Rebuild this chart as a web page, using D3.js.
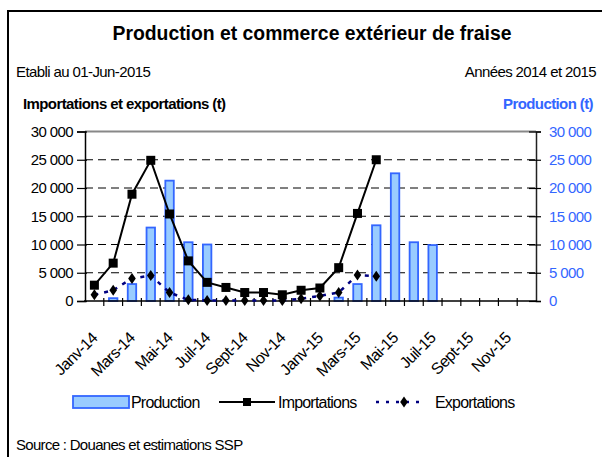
<!DOCTYPE html>
<html>
<head>
<meta charset="utf-8">
<script src="https://cdn.jsdelivr.net/npm/d3@7"></script>
<style>
    body { margin: 0; background: #fff; }
    text { font-family: "Liberation Sans", Arial, sans-serif; }
</style>
</head>
<body>
<svg id="chart" width="602" height="457"></svg>
<script>
// months, Janv-14 .. Déc-15
const months = ["Janv-14", "Févr-14", "Mars-14", "Avr-14", "Mai-14", "Juin-14",
    "Juil-14", "Août-14", "Sept-14", "Oct-14", "Nov-14", "Déc-14",
    "Janv-15", "Févr-15", "Mars-15", "Avr-15", "Mai-15", "Juin-15",
    "Juil-15", "Août-15", "Sept-15", "Oct-15", "Nov-15", "Déc-15"];
// only every second month gets a label
const tickLabels = ["Janv-14", "Mars-14", "Mai-14", "Juil-14", "Sept-14", "Nov-14",
    "Janv-15", "Mars-15", "Mai-15", "Juil-15", "Sept-15", "Nov-15"];

const production = [null, 500, 3000, 13000, 21300, 10400, 10000, null, null, null, null, null,
    null, 600, 3000, 13400, 22600, 10400, 9900, null, null, null, null, null];
const importations = [2800, 6700, 18900, 24900, 15400, 7100, 3300, 2400, 1500, 1500, 1100, 1900,
    2300, 5900, 15500, 25000, null, null, null, null, null, null, null, null];
const exportations = [1100, 1900, 4000, 4500, 1500, 200, 100, 100, 100, 100, 100, 400,
    900, 1500, 4600, 4400, null, null, null, null, null, null, null, null];

const yTicks = [0, 5000, 10000, 15000, 20000, 25000, 30000];

const blue = "#3366ff";
const svg = d3.select("#chart");

// outer frame
svg.append("rect")
    .attr("x", 8).attr("y", 11)
    .attr("width", 620).attr("height", 480)
    .attr("fill", "none").attr("stroke", "#000").attr("stroke-width", 2);

const plotL = 85, plotR = 536, plotT = 131.5, plotB = 301;

const x = d3.scaleBand().domain(months).range([plotL, plotR]).padding(0);
const y = d3.scaleLinear().domain([0, 30000]).range([plotB, plotT]);
const y2 = d3.scaleLinear().domain([0, 30000]).range([plotB, plotT]);

const fmt = d => d === 0 ? "0" : d3.format(",")(d).replace(",", " ");

// titles
svg.append("text")
    .attr("x", 312).attr("y", 40)
    .attr("text-anchor", "middle")
    .attr("font-size", 20).attr("font-weight", "bold")
    .attr("textLength", 399).attr("lengthAdjust", "spacingAndGlyphs")
    .text("Production et commerce extérieur de fraise");

svg.append("text")
    .attr("x", 16).attr("y", 77)
    .attr("font-size", 15).attr("letter-spacing", -0.6)
    .text("Etabli au 01-Jun-2015");

svg.append("text")
    .attr("x", 596).attr("y", 77)
    .attr("text-anchor", "end")
    .attr("font-size", 15).attr("letter-spacing", -0.6)
    .text("Années 2014 et 2015");

svg.append("text")
    .attr("x", 23).attr("y", 109)
    .attr("font-size", 15).attr("font-weight", "bold").attr("letter-spacing", -0.6)
    .text("Importations et exportations (t)");

svg.append("text")
    .attr("x", 593).attr("y", 109)
    .attr("text-anchor", "end")
    .attr("fill", blue)
    .attr("font-size", 15).attr("font-weight", "bold").attr("letter-spacing", -0.6)
    .text("Production (t)");

// grid lines
svg.append("g")
    .selectAll("line")
    .data(yTicks.filter(d => d > 0 && d < 30000))
    .enter()
    .append("line")
    .attr("x1", plotL).attr("x2", plotR)
    .attr("y1", d => y(d)).attr("y2", d => y(d))
    .attr("stroke", "#000").attr("stroke-width", 1)
    .attr("stroke-dasharray", "8,5");

svg.append("line")
    .attr("x1", plotL).attr("x2", plotR)
    .attr("y1", y(30000)).attr("y2", y(30000))
    .attr("stroke", "#888").attr("stroke-width", 2);

// production bars (right axis)
const bw = x.bandwidth() * 0.45;
svg.append("g")
    .selectAll("rect")
    .data(months.map((m, i) => ({m: m, v: production[i]})).filter(d => d.v != null))
    .enter()
    .append("rect")
    .attr("x", d => x(d.m) + (x.bandwidth() - bw) / 2)
    .attr("y", d => y2(d.v))
    .attr("width", bw)
    .attr("height", d => plotB - y2(d.v))
    .attr("fill", "#99ccff")
    .attr("stroke", blue).attr("stroke-width", 1.8);

// left axis
const gl = svg.append("g")
    .attr("transform", `translate(${plotL},0)`)
    .call(d3.axisLeft(y).tickValues(yTicks).tickFormat(fmt).tickSize(8).tickPadding(4));
gl.select(".domain").attr("stroke", "#000").attr("stroke-width", 1.5);
gl.selectAll(".tick line").attr("x1", 2).attr("stroke-width", 1.2);
gl.selectAll(".tick text")
    .attr("font-size", 15).attr("letter-spacing", -0.6)
    .attr("font-family", "Liberation Sans, Arial, sans-serif")
    .attr("fill", "#000");

// right axis
const gr = svg.append("g")
    .attr("transform", `translate(${plotR},0)`)
    .call(d3.axisRight(y2).tickValues(yTicks).tickFormat(fmt).tickSize(5).tickPadding(8));
gr.select(".domain").attr("stroke", "#222").attr("stroke-width", 1.5);
gr.selectAll(".tick line").attr("x1", -7).attr("stroke-width", 1.2);
gr.selectAll(".tick text")
    .attr("font-size", 15).attr("letter-spacing", -0.6)
    .attr("font-family", "Liberation Sans, Arial, sans-serif")
    .attr("fill", blue);

// x axis with ticks on the category boundaries
svg.append("line")
    .attr("x1", plotL - 1).attr("x2", plotR + 1)
    .attr("y1", plotB).attr("y2", plotB)
    .attr("stroke", "#000").attr("stroke-width", 1.5);
svg.append("g")
    .selectAll("line")
    .data(months.slice(1))
    .enter()
    .append("line")
    .attr("x1", d => x(d)).attr("x2", d => x(d))
    .attr("y1", plotB - 3).attr("y2", plotB + 5)
    .attr("stroke", "#000").attr("stroke-width", 1.2);

svg.append("g")
    .selectAll("text")
    .data(tickLabels)
    .enter()
    .append("text")
    .attr("transform", d => `translate(${x(d) + x.bandwidth() / 2 + 4},${plotB + 38}) rotate(-45)`)
    .attr("text-anchor", "end")
    .attr("font-size", 16).attr("letter-spacing", -0.6)
    .text(d => d);

// lines
const line = yScale => d3.line()
    .defined(d => d.v != null)
    .x(d => x(d.m) + x.bandwidth() / 2)
    .y(d => yScale(d.v));

const impData = months.map((m, i) => ({m: m, v: importations[i]}));
const expData = months.map((m, i) => ({m: m, v: exportations[i]}));

svg.append("path")
    .datum(expData)
    .attr("d", line(y))
    .attr("fill", "none")
    .attr("stroke", "#000080").attr("stroke-width", 2.5)
    .attr("stroke-dasharray", "4,6");

const diamond = "M0,-5.5L3.8,0L0,5.5L-3.8,0Z";
svg.append("g")
    .selectAll("path")
    .data(expData.filter(d => d.v != null))
    .enter()
    .append("path")
    .attr("d", diamond)
    .attr("transform", d => `translate(${x(d.m) + x.bandwidth() / 2},${y(d.v)})`)
    .attr("fill", "#000");

svg.append("path")
    .datum(impData)
    .attr("d", line(y))
    .attr("fill", "none")
    .attr("stroke", "#000").attr("stroke-width", 2);

svg.append("g")
    .selectAll("rect")
    .data(impData.filter(d => d.v != null))
    .enter()
    .append("rect")
    .attr("x", d => x(d.m) + x.bandwidth() / 2 - 4.5)
    .attr("y", d => y(d.v) - 4.5)
    .attr("width", 9).attr("height", 9)
    .attr("fill", "#000");

// legend
const lg = svg.append("g");
lg.append("rect")
    .attr("x", 73).attr("y", 396).attr("width", 56).attr("height", 12)
    .attr("fill", "#99ccff").attr("stroke", blue).attr("stroke-width", 1.8);
lg.append("text").attr("x", 131).attr("y", 408)
    .attr("font-size", 16).attr("letter-spacing", -0.8).text("Production");

lg.append("line").attr("x1", 219).attr("x2", 275).attr("y1", 402).attr("y2", 402)
    .attr("stroke", "#000").attr("stroke-width", 2);
lg.append("rect").attr("x", 243).attr("y", 398).attr("width", 8).attr("height", 8).attr("fill", "#000");
lg.append("text").attr("x", 278).attr("y", 408)
    .attr("font-size", 16).attr("letter-spacing", -0.8).text("Importations");

lg.append("line").attr("x1", 376).attr("x2", 426).attr("y1", 402).attr("y2", 402)
    .attr("stroke", "#000080").attr("stroke-width", 2.5).attr("stroke-dasharray", "3,7");
lg.append("path").attr("d", diamond).attr("transform", "translate(404,402)").attr("fill", "#000");
lg.append("text").attr("x", 435).attr("y", 408)
    .attr("font-size", 16).attr("letter-spacing", -0.8).text("Exportations");

svg.append("text")
    .attr("x", 16).attr("y", 450)
    .attr("font-size", 15).attr("letter-spacing", -0.7)
    .text("Source : Douanes et estimations SSP");
</script>
</body>
</html>
